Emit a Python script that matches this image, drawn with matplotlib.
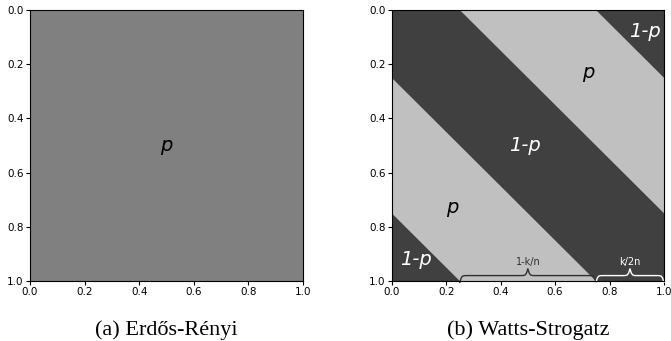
import numpy as np
import matplotlib.pyplot as plt

# model parameters shown in the sketch
p_gray = 0.5          # Erdos-Renyi: uniform probability shade
dark_shade = 0.25     # Watts-Strogatz: 1-p (ring lattice neighbours)
light_shade = 0.75    # Watts-Strogatz: p
k_over_2n = 0.25      # half width of the lattice band
ticks = [0.0, 0.2, 0.4, 0.6, 0.8, 1.0]
tick_labels = ['0.0', '0.2', '0.4', '0.6', '0.8', '1.0']

# text labels in the WS panel: (x, y, text, colour)
ws_labels = [
    (0.49, 0.5, '1-p', 'white'),
    (0.72, 0.23, 'p', 'black'),
    (0.224, 0.73, 'p', 'black'),
    (0.93, 0.08, '1-p', 'white'),
    (0.09, 0.92, '1-p', 'white'),
]
# braces: (xmin, xmax, text, colour)
braces = [
    (0.25, 0.75, '1-k/n', '#303030'),
    (0.75, 1.0, 'k/2n', 'white'),
]
captions = ['(a) Erdős-Rényi', '(b) Watts-Strogatz']


def draw_brace(ax, xmin, xmax, yy, text, color):
    ax_xmin, ax_xmax = ax.get_xlim()
    xax_span = ax_xmax - ax_xmin
    ymin, ymax = ax.get_ylim()
    yspan = ymax - ymin
    resolution = int((xmax - xmin) / xax_span * 100) * 2 + 1
    beta = 300. / xax_span
    x = np.linspace(xmin, xmax, resolution)
    x_half = x[:int(resolution / 2) + 1]
    y_half = (1 / (1. + np.exp(-beta * (x_half - x_half[0])))
              + 1 / (1. + np.exp(-beta * (x_half - x_half[-1]))))
    y = np.concatenate((y_half, y_half[-2::-1]))
    y = yy + (.05 * y - .01) * yspan
    ax.plot(x, y, color=color, lw=1, clip_on=False)
    ax.text((xmax + xmin) / 2., yy + .07 * yspan, text, ha='center',
            va='bottom', color=color, fontsize=7)


fig = plt.figure(figsize=(6.71, 3.41), dpi=100)
ax1 = fig.add_axes([30 / 671, 60 / 341, 273 / 671, 271 / 341])
ax2 = fig.add_axes([391.7 / 671, 60 / 341, 272.3 / 671, 271 / 341])

gray = plt.get_cmap('gray')

for ax in (ax1, ax2):
    ax.set_xlim(0, 1)
    ax.set_ylim(1, 0)
    ax.set_xticks(ticks)
    ax.set_xticklabels(tick_labels)
    ax.set_yticks(ticks)
    ax.set_yticklabels(tick_labels)
    ax.tick_params(labelsize=7.5, length=3, width=0.8, pad=1.5)

# (a) uniform
ax1.set_facecolor(gray(p_gray))
ax1.text(0.5, 0.5, 'p', fontsize=14, style='italic', ha='center', va='center')

# (b) banded
ax2.set_facecolor(gray(light_shade))
xs = np.linspace(-0.5, 1.5, 3)
for shift in (-1, 0, 1):
    ax2.fill_between(xs, xs + shift - k_over_2n, xs + shift + k_over_2n,
                     color=gray(dark_shade), lw=0)
for x, y, t, c in ws_labels:
    ax2.text(x, y, t, fontsize=14, style='italic', color=c,
             ha='center', va='center')
for xmin, xmax, t, c in braces:
    draw_brace(ax2, xmin, xmax, 1.02, t, c)

for ax, cap in zip((ax1, ax2), captions):
    ax.text(0.5, -0.2, cap, transform=ax.transAxes, ha='center',
            va='baseline', fontsize=16, family='Liberation Serif')

fig.savefig('out.png', dpi=100)
